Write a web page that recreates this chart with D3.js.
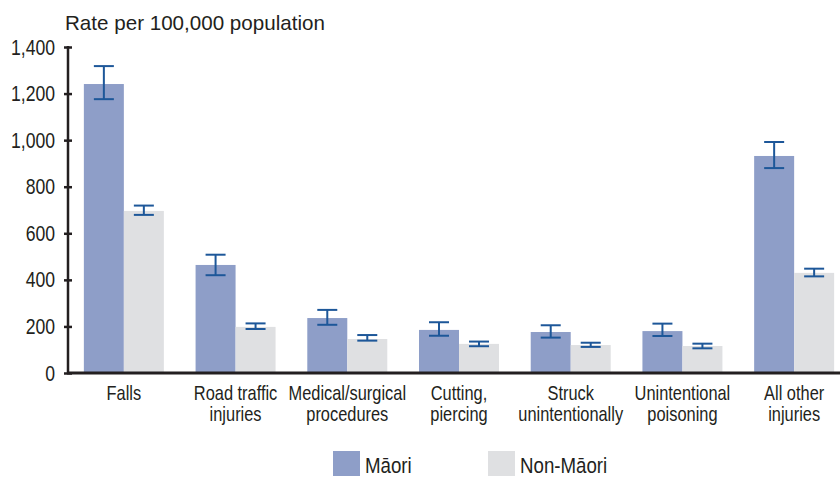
<!DOCTYPE html>
<html>
<head>
<meta charset="utf-8">
<script src="https://cdn.jsdelivr.net/npm/d3@7"></script>
<style>
  html, body { margin: 0; padding: 0; background: #ffffff; }
  svg { display: block; }
  text { font-family: "Liberation Sans", Arial, sans-serif; }
</style>
</head>
<body>
<svg id="chart" width="840" height="477"></svg>
<script>
// Injury rates per 100,000 population, Māori vs non-Māori, with 95% confidence intervals
const categories = [
  ["Falls"],
  ["Road traffic", "injuries"],
  ["Medical/surgical", "procedures"],
  ["Cutting,", "piercing"],
  ["Struck", "unintentionally"],
  ["Unintentional", "poisoning"],
  ["All other", "injuries"]
];
const maoriRate   = [1241, 464, 236, 185, 176, 180, 932];
const maoriLow    = [1176, 420, 207, 160, 152, 159, 880];
const maoriHigh   = [1318, 508, 271, 218, 205, 212, 992];
const nonMaoriRate = [696, 198, 146, 125, 120, 116, 430];
const nonMaoriLow  = [679, 189, 139, 115, 112, 106, 415];
const nonMaoriHigh = [719, 213, 163, 135, 130, 126, 448];
const seriesNames = ["Māori", "Non-Māori"];
const yTicks = [0, 200, 400, 600, 800, 1000, 1200, 1400];
const yTitle = "Rate per 100,000 population";

const colours = ["#8e9ec8", "#dfe0e2"];
const errColour = "#1d5799";
const axisColour = "#231f20";

// condensed type is imitated by squeezing glyphs horizontally
const squeeze = 0.8;

const svg = d3.select("#chart");
const plotLeft = 68, plotRight = 850, plotTop = 47, plotBottom = 373;

const x = d3.scaleBand()
  .domain(d3.range(categories.length))
  .range([plotLeft, plotRight])
  .paddingInner(0.284)
  .paddingOuter(0.142);
const xs = d3.scaleBand()
  .domain([0, 1])
  .range([0, x.bandwidth()]);
const y = d3.scaleLinear().domain([0, 1400]).range([plotBottom, plotTop]);

const series = [
  { rate: maoriRate, low: maoriLow, high: maoriHigh },
  { rate: nonMaoriRate, low: nonMaoriLow, high: nonMaoriHigh }
];

// bars
series.forEach((s, si) => {
  svg.append("g")
    .selectAll("rect")
    .data(s.rate)
    .join("rect")
    .attr("x", (d, i) => x(i) + xs(si))
    .attr("y", d => y(d))
    .attr("width", xs.bandwidth())
    .attr("height", d => y(0) - y(d))
    .attr("fill", colours[si]);
});

// error bars
const capHalf = 10;
series.forEach((s, si) => {
  const g = svg.append("g").attr("stroke", errColour).attr("stroke-width", 2).attr("fill", "none");
  s.rate.forEach((d, i) => {
    const cx = x(i) + xs(si) + xs.bandwidth() / 2;
    g.append("line").attr("x1", cx).attr("x2", cx).attr("y1", y(s.high[i])).attr("y2", y(s.low[i]));
    g.append("line").attr("x1", cx - capHalf).attr("x2", cx + capHalf).attr("y1", y(s.high[i])).attr("y2", y(s.high[i]));
    g.append("line").attr("x1", cx - capHalf).attr("x2", cx + capHalf).attr("y1", y(s.low[i])).attr("y2", y(s.low[i]));
  });
});

// y axis
const yAxis = d3.axisLeft(y)
  .tickValues(yTicks)
  .tickFormat(d3.format(","))
  .tickSize(0)
  .tickPadding(13);
const yg = svg.append("g").attr("transform", `translate(${plotLeft},0)`).call(yAxis);
yg.select(".domain").remove();
yg.selectAll("text")
  .attr("font-size", 22)
  .attr("fill", axisColour)
  .attr("x", -13 / squeeze)
  .attr("transform", `scale(${squeeze},1)`);
yg.selectAll(".tick").append("line")
  .attr("x1", -4).attr("x2", 4)
  .attr("stroke", axisColour).attr("stroke-width", 2.5);
svg.append("line")
  .attr("x1", plotLeft).attr("x2", plotLeft)
  .attr("y1", plotTop - 1).attr("y2", plotBottom)
  .attr("stroke", axisColour).attr("stroke-width", 2.5);

// x axis baseline
svg.append("line")
  .attr("x1", plotLeft - 1).attr("x2", 840)
  .attr("y1", plotBottom).attr("y2", plotBottom)
  .attr("stroke", axisColour).attr("stroke-width", 3);

// category labels, one text per line
categories.forEach((lines, i) => {
  const g = svg.append("g")
    .attr("transform", `translate(${x(i) + x.bandwidth() / 2},400) scale(${squeeze},1)`);
  lines.forEach((ln, k) => {
    g.append("text")
      .attr("x", 0).attr("y", k * 21)
      .attr("font-size", 20.5)
      .attr("fill", axisColour)
      .attr("text-anchor", "middle")
      .text(ln);
  });
});

// y title
svg.append("text")
  .attr("x", 65).attr("y", 30)
  .attr("font-size", 20.6)
  .attr("fill", axisColour)
  .text(yTitle);

// legend
const legendX = [333, 488];
seriesNames.forEach((name, si) => {
  svg.append("rect")
    .attr("x", legendX[si]).attr("y", 451)
    .attr("width", 27).attr("height", 25)
    .attr("fill", colours[si]);
  svg.append("g")
    .attr("transform", `translate(${legendX[si] + 32},473) scale(0.85,1)`)
    .append("text")
    .attr("font-size", 22)
    .attr("fill", axisColour)
    .text(name);
});
</script>
</body>
</html>
